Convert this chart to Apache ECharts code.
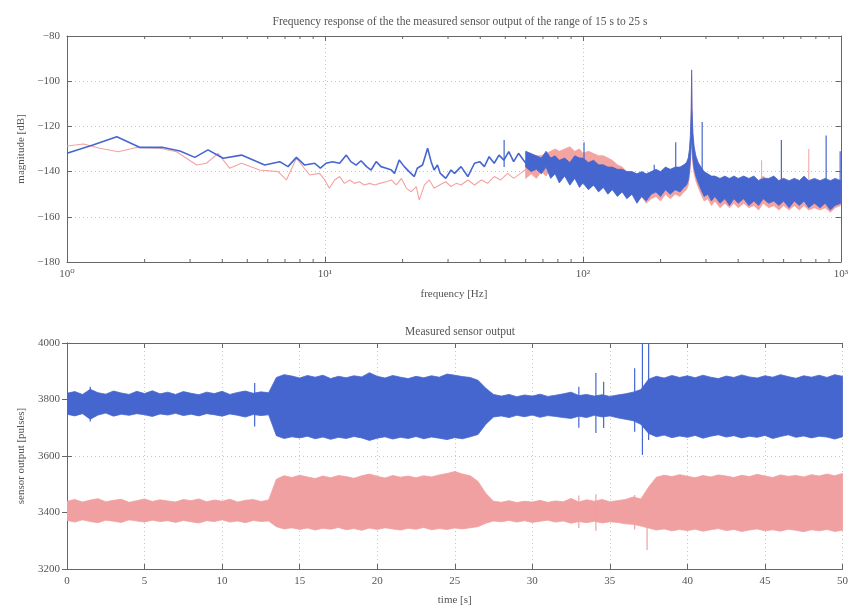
<!DOCTYPE html>
<html>
<head>
<meta charset="utf-8">
<title>Sensor output</title>
<script src="https://cdn.jsdelivr.net/npm/echarts@6/dist/echarts.min.js"></script>
<style>
  html, body { margin: 0; padding: 0; background: #fff; }
  #chart { width: 851px; height: 609px; }
</style>
</head>
<body>
<div id="chart"></div>
<script>
// ---------- Frequency response (upper plot) ----------
// Low-frequency part, drawn as plain lines: frequency [Hz] / magnitude [dB]
const blueLineFreq = [1.00, 1.26, 1.56, 1.92, 2.36, 2.74, 3.13, 3.52, 4.03, 4.75, 5.84, 6.68, 7.19, 7.75, 8.34, 9.12,
  9.6, 10.1, 10.7, 11.4, 12.1, 12.6, 13.2, 13.8, 14.5, 15.1, 15.8, 16.5, 17.3, 18.1, 18.6, 19.4, 20.3, 21.2, 22.2, 22.8,
  23.9, 25.0, 25.8, 26.5, 27.3, 28.0, 29.4, 30.8, 31.8, 33.7, 35.8, 38.0, 39.8, 41.5, 43.3, 45.3, 47.3, 49.4, 51.6,
  53.9, 56.3, 58.8, 61.5];
const blueLineDb = [-131.9, -128.2, -124.6, -129.3, -129.3, -130.9, -133.7, -130.4, -134.1, -132.7, -137.1, -135.6, -137.8, -133.7, -137.1, -136.3,
  -138.5, -136.3, -135.6, -136.3, -132.7, -135.6, -137.1, -135.2, -137.8, -139.3, -135.6, -137.8, -138.5, -139.3, -140.8, -134.9, -137.8, -140.0, -142.2, -138.5,
  -137.1, -129.7, -135.6, -139.3, -137.1, -140.8, -143.0, -139.3, -140.8, -137.8, -142.2, -136.3, -135.6, -137.8, -133.4, -136.3, -132.7, -134.9, -131.2,
  -135.6, -131.9, -134.9, -137.8];

const redLineFreq = [1.00, 1.16, 1.34, 1.58, 1.86, 2.29, 2.66, 3.18, 3.47, 3.85, 4.27, 4.75, 5.58, 6.58, 7.09, 7.75, 8.72,
  9.53, 9.98, 10.4, 10.9, 11.4, 11.9, 12.5, 13.0, 13.6, 14.2, 14.9, 15.6, 16.3, 17.3, 18.1, 18.9, 19.8, 20.7, 21.6, 22.6,
  23.2, 24.3, 25.4, 26.5, 27.8, 29.4, 30.8, 32.3, 33.7, 35.8, 38.0, 40.4, 42.7, 45.3, 48.0, 51.1, 53.9, 57.3, 60.9];
const redLineDb = [-128.7, -127.8, -129.7, -131.2, -129.3, -129.7, -131.2, -137.1, -136.3, -131.9, -138.5, -136.3, -139.3, -140.0, -143.7, -134.1, -141.5,
  -140.8, -143.7, -147.4, -143.7, -142.2, -145.2, -143.7, -145.2, -144.5, -145.9, -145.2, -145.9, -145.2, -144.5, -143.7, -145.9, -143.0, -147.4, -148.9, -146.6,
  -152.6, -145.9, -143.7, -147.4, -145.9, -144.5, -146.6, -145.2, -145.9, -143.7, -145.9, -143.7, -145.2, -142.2, -143.7, -140.8, -143.0, -140.8, -138.5];

// Higher frequencies: spread of the noisy spectrum (lower / upper magnitude)
const bandFreq = [60, 63, 66, 69, 72, 75, 78, 81, 85, 89, 93, 97, 100, 105, 110, 115, 120, 125, 130, 136, 142, 148,
  155, 162, 169, 176, 184, 192, 200, 209, 218, 228, 238, 246, 252, 256, 259, 261, 263, 264, 265, 267, 270, 274, 280,
  287, 295, 305, 315, 325, 340, 355, 370, 385, 400, 420, 440, 460, 480, 500, 525, 550, 575, 600, 630, 660, 690, 720,
  750, 790, 830, 870, 910, 950, 1000];
const blueBandLo = [-138, -140, -139, -141, -138, -143, -141, -145, -142, -146, -143, -147, -145, -148, -146, -149, -147, -150, -148, -151, -149, -152,
  -150, -154, -151, -153, -150, -149, -151, -148, -150, -148, -149, -147, -146, -144, -140, -135, -128, -125, -128, -135, -139, -142, -145,
  -148, -151, -150, -153, -151, -154, -152, -155, -152, -154, -152, -155, -153, -155, -152, -154, -153, -155, -153, -156, -153, -155, -153,
  -156, -154, -156, -154, -157, -155, -154];
const blueBandHi = [-131, -132, -133, -134, -131, -134, -133, -135, -134, -136, -133, -134, -134, -136, -135, -137, -137, -138, -138, -139, -139, -140,
  -140, -141, -140, -141, -140, -139, -140, -138, -139, -138, -138, -137, -136, -134, -130, -124, -112, -95, -112, -123, -129, -133, -136,
  -138, -140, -141, -142, -142, -143, -142, -143, -142, -143, -142, -143, -142, -144, -143, -143, -142, -144, -143, -144, -143, -144, -142,
  -144, -143, -144, -143, -144, -143, -144];
const redBandLo = [-143, -141, -143, -140, -142, -139, -141, -139, -140, -138, -141, -139, -141, -140, -142, -141, -143, -142, -144, -145, -147, -149,
  -150, -153, -151, -154, -152, -151, -153, -150, -152, -150, -151, -149, -148, -146, -142, -137, -130, -127, -130, -137, -141, -144, -147,
  -150, -153, -152, -155, -153, -156, -154, -156, -154, -156, -154, -156, -155, -157, -154, -156, -155, -157, -155, -157, -155, -157, -155,
  -157, -156, -157, -156, -158, -156, -155];
const redBandHi = [-135, -134, -133, -133, -132, -131, -130, -131, -130, -129, -131, -130, -132, -131, -132, -133, -133, -134, -135, -137, -138, -140,
  -141, -142, -141, -142, -141, -140, -141, -139, -140, -139, -139, -138, -137, -135, -131, -126, -114, -98, -114, -125, -131, -135, -138,
  -140, -141, -142, -143, -143, -144, -143, -144, -143, -144, -143, -144, -143, -144, -142, -144, -143, -144, -143, -145, -143, -144, -143,
  -145, -144, -144, -144, -145, -144, -144];

// Narrow spectral lines: frequency, foot and tip [dB]
const blueSpikeFreq = [49.5, 101, 189, 229, 290, 588, 877, 994];
const blueSpikeLo = [-138, -140, -148, -148, -148, -150, -150, -150];
const blueSpikeHi = [-126, -127, -137, -127, -118, -126, -124, -131];
const redSpikeFreq = [120, 493, 751];
const redSpikeLo = [-140, -150, -150];
const redSpikeHi = [-133, -135, -130];

// Minor tick positions of the logarithmic frequency axis
const minorFreq = [2, 3, 4, 5, 6, 7, 8, 9, 20, 30, 40, 50, 60, 70, 80, 90, 200, 300, 400, 500, 600, 700, 800, 900];

// ---------- Measured sensor output (lower plot) ----------
const timeS = [0, 0.5, 1, 1.5, 2, 2.5, 3, 3.5, 4, 4.5, 5, 5.5, 6, 6.5, 7, 7.5, 8, 8.5, 9, 9.5, 10, 10.5, 11, 11.5, 12, 12.5, 13,
  13.5, 14, 14.5, 15, 15.5, 16, 16.5, 17, 17.5, 18, 18.5, 19, 19.5, 20, 20.5, 21, 21.5, 22, 22.5, 23, 23.5, 24, 24.5, 25, 25.5, 26,
  26.5, 27, 27.5, 28, 28.5, 29, 29.5, 30, 30.5, 31, 31.5, 32, 32.5, 33, 33.5, 34, 34.5, 35, 35.5, 36, 36.5, 37,
  37.5, 38, 38.5, 39, 39.5, 40, 40.5, 41, 41.5, 42, 42.5, 43, 43.5, 44, 44.5, 45, 45.5, 46, 46.5, 47, 47.5, 48, 48.5, 49, 49.5, 50];
const blueHi = [3822, 3828, 3818, 3836, 3824, 3819, 3830, 3823, 3818, 3829, 3821, 3831, 3820, 3826, 3818, 3828, 3822, 3817, 3826, 3821, 3829, 3818, 3825, 3830, 3822, 3827, 3824,
  3878, 3888, 3883, 3876, 3885, 3879, 3886, 3874, 3882, 3877, 3884, 3880, 3895, 3882, 3876, 3885, 3879, 3874, 3882, 3877, 3884, 3879, 3890, 3886, 3881, 3878,
  3868, 3840, 3818, 3812, 3818, 3810, 3816, 3812, 3819, 3811, 3815, 3820, 3826, 3814, 3818, 3812, 3817, 3811, 3816, 3820, 3826, 3835,
  3872, 3882, 3876, 3885, 3878, 3884, 3877, 3886, 3879, 3874, 3883, 3878, 3887, 3880, 3876, 3884, 3879, 3888, 3881, 3875, 3884, 3879, 3886, 3878, 3888, 3882];
const blueLo = [3748, 3742, 3750, 3730, 3745, 3752, 3741, 3748, 3744, 3750, 3746, 3740, 3749, 3745, 3751, 3743, 3748, 3742, 3750, 3746, 3741, 3749, 3744, 3738, 3747, 3743, 3746,
  3672, 3662, 3668, 3664, 3670, 3661, 3667, 3659, 3666, 3662, 3669, 3664, 3655, 3663, 3668, 3660, 3666, 3662, 3669, 3661, 3667, 3663, 3658, 3665, 3661, 3668,
  3676, 3712, 3738, 3742, 3736, 3744, 3739, 3745, 3737, 3743, 3740, 3736, 3733, 3741, 3736, 3744, 3738, 3742, 3735, 3730, 3725, 3712,
  3680, 3668, 3674, 3665, 3671, 3666, 3673, 3663, 3670, 3675, 3667, 3672, 3664, 3670, 3666, 3673, 3662, 3669, 3675, 3666, 3671, 3664, 3670, 3667, 3660, 3668];
const redHi = [3440, 3446, 3437, 3444, 3449, 3438, 3443, 3447, 3436, 3442, 3448, 3439, 3445, 3441, 3437, 3446, 3442, 3448, 3438, 3444, 3440, 3447, 3437, 3443, 3446, 3439, 3444,
  3518, 3530, 3524, 3532, 3526, 3520, 3529, 3523, 3531, 3527, 3521, 3530, 3536, 3528, 3522, 3531, 3525, 3529, 3523, 3530, 3526, 3533, 3538, 3545, 3536, 3530,
  3510, 3468, 3440, 3436, 3442, 3435, 3440, 3437, 3443, 3436, 3441, 3438, 3450, 3437, 3445, 3440, 3446, 3438, 3442, 3446, 3455, 3448,
  3490, 3525, 3532, 3527, 3534, 3528, 3523, 3531, 3526, 3533, 3529, 3524, 3532, 3527, 3535, 3529, 3524, 3533, 3528, 3531, 3526, 3534, 3529, 3536, 3530, 3538];
const redLo = [3372, 3366, 3374, 3368, 3364, 3373, 3369, 3365, 3374, 3370, 3366, 3373, 3368, 3371, 3365, 3372, 3367, 3363, 3371, 3368, 3374, 3366, 3370, 3364, 3372, 3368, 3370,
  3350, 3342, 3346, 3340, 3345, 3338, 3344, 3341, 3347, 3339, 3343, 3337, 3345, 3340, 3346, 3342, 3338, 3344, 3341, 3347, 3339, 3343, 3340, 3345, 3342, 3346,
  3350, 3362, 3370, 3367, 3372, 3366, 3371, 3365, 3369, 3373, 3366, 3370, 3362, 3368, 3364, 3369, 3363, 3367, 3365, 3360, 3358, 3352,
  3345, 3338, 3342, 3335, 3340, 3336, 3341, 3334, 3339, 3343, 3336, 3340, 3333, 3338, 3342, 3335, 3339, 3334, 3341, 3337, 3332, 3339, 3335, 3340, 3333, 3337];

// Isolated disturbances: time [s], lowest and highest reading [pulses]
const blueSpikeT = [1.5, 12.1, 33.0, 34.1, 34.6, 36.6, 37.1, 37.5];
const blueSpikeMin = [3722, 3704, 3700, 3681, 3699, 3686, 3604, 3657];
const blueSpikeMax = [3845, 3858, 3845, 3894, 3863, 3911, 4000, 4000];
const redSpikeT = [33.0, 34.1, 36.6, 37.4];
const redSpikeMin = [3345, 3335, 3340, 3267];
const redSpikeMax = [3460, 3465, 3462, 3480];

// ---------- styling ----------
const BLUE = '#4566cf';
const RED = '#f0a0a0';
const TEXT = '#555';
const FONT = '"Liberation Serif", "DejaVu Serif", serif';
const SUP = { 0: '\u2070', 1: '\u00b9', 2: '\u00b2', 3: '\u00b3' };

function zip(xs, ys) { return xs.map((x, i) => [x, ys[i]]); }

// Filled band between a lower and an upper envelope
function bandSeries(xAxisIndex, yAxisIndex, xs, lo, hi, color, z) {
  return {
    type: 'custom', xAxisIndex, yAxisIndex, z, clip: true, silent: true,
    data: [[xs[0], lo[0]]],
    renderItem(params, api) {
      const pts = [];
      for (let i = 0; i < xs.length; i++) pts.push(api.coord([xs[i], hi[i]]));
      for (let i = xs.length - 1; i >= 0; i--) pts.push(api.coord([xs[i], lo[i]]));
      return { type: 'polygon', shape: { points: pts },
        style: { fill: color, stroke: color, lineWidth: 0.8 } };
    }
  };
}

// Vertical strokes from a foot value to a tip value
function spikeSeries(xAxisIndex, yAxisIndex, xs, lo, hi, color, width, z) {
  return {
    type: 'custom', xAxisIndex, yAxisIndex, z, clip: true, silent: true,
    data: xs.map((x, i) => [x, lo[i], hi[i]]),
    renderItem(params, api) {
      const a = api.coord([api.value(0), api.value(1)]);
      const b = api.coord([api.value(0), api.value(2)]);
      return { type: 'line', shape: { x1: a[0], y1: a[1], x2: b[0], y2: b[1] },
        style: { stroke: color, lineWidth: width } };
    }
  };
}

// Short inward ticks at the minor decades of the log axis (top and bottom edge)
const minorTickSeries = {
  type: 'custom', xAxisIndex: 0, yAxisIndex: 0, z: 10, silent: true,
  data: minorFreq.map(f => [f, -180]),
  renderItem(params, api) {
    const x = api.coord([api.value(0), -180])[0];
    const cs = params.coordSys;
    const yb = cs.y + cs.height, yt = cs.y;
    return { type: 'group', children: [
      { type: 'line', shape: { x1: x, y1: yb, x2: x, y2: yb - 3 }, style: { stroke: '#666', lineWidth: 1 } },
      { type: 'line', shape: { x1: x, y1: yt, x2: x, y2: yt + 3 }, style: { stroke: '#666', lineWidth: 1 } }
    ] };
  }
};

const labelStyle = { color: TEXT, fontFamily: FONT, fontSize: 11 };
const axisLineStyle = { show: true, lineStyle: { color: '#666', width: 1 } };
const tickStyle = { show: true, inside: true, length: 5, lineStyle: { color: '#666' } };
const gridLine = { show: true, lineStyle: { color: '#c4c4c4', type: [1, 3], width: 1 } };
const minus = v => String(v).replace('-', '\u2212');
const plain = v => String(v);

const option = {
  animation: false,
  backgroundColor: '#fff',
  title: [
    { text: 'Frequency response of the the measured sensor output of the range of 15 s to 25 s',
      left: 455, top: 11, textAlign: 'center',
      textStyle: { color: TEXT, fontFamily: FONT, fontSize: 11.5, fontWeight: 'normal' } },
    { text: 'Measured sensor output', left: 455, top: 321, textAlign: 'center',
      textStyle: { color: TEXT, fontFamily: FONT, fontSize: 11.5, fontWeight: 'normal' } }
  ],
  grid: [
    { left: 67, top: 36, width: 777, height: 226 },
    { left: 67, top: 343, width: 777, height: 226 }
  ],
  xAxis: [
    { type: 'log', logBase: 10, gridIndex: 0, min: 1, max: 1000, position: 'bottom',
      axisLine: axisLineStyle, axisTick: tickStyle, splitLine: gridLine,
      axisLabel: Object.assign({}, labelStyle, { margin: 7,
        formatter: v => '10' + SUP[Math.round(Math.log10(v))] }),
      name: 'frequency [Hz]', nameLocation: 'middle', nameGap: 27,
      nameTextStyle: labelStyle },
    { type: 'log', logBase: 10, gridIndex: 0, min: 1, max: 1000, position: 'top',
      axisLine: axisLineStyle, axisTick: tickStyle, axisLabel: { show: false }, splitLine: { show: false } },
    { type: 'value', gridIndex: 1, min: 0, max: 50, interval: 5, position: 'bottom',
      axisLine: axisLineStyle, axisTick: tickStyle, splitLine: gridLine,
      axisLabel: Object.assign({}, labelStyle, { margin: 7, formatter: plain }),
      name: 'time [s]', nameLocation: 'middle', nameGap: 26, nameTextStyle: labelStyle },
    { type: 'value', gridIndex: 1, min: 0, max: 50, interval: 5, position: 'top',
      axisLine: axisLineStyle, axisTick: tickStyle, axisLabel: { show: false }, splitLine: { show: false } }
  ],
  yAxis: [
    { type: 'value', gridIndex: 0, min: -180, max: -80, interval: 20, position: 'left',
      axisLine: axisLineStyle, axisTick: tickStyle, splitLine: gridLine,
      axisLabel: Object.assign({}, labelStyle, { margin: 7, formatter: minus }),
      name: 'magnitude [dB]', nameLocation: 'middle', nameGap: 40, nameTextStyle: labelStyle },
    { type: 'value', gridIndex: 0, min: -180, max: -80, interval: 20, position: 'right',
      axisLine: axisLineStyle, axisTick: tickStyle, axisLabel: { show: false }, splitLine: { show: false } },
    { type: 'value', gridIndex: 1, min: 3200, max: 4000, interval: 200, position: 'left',
      axisLine: axisLineStyle, axisTick: tickStyle, splitLine: gridLine,
      axisLabel: Object.assign({}, labelStyle, { margin: 7, formatter: plain }),
      name: 'sensor output [pulses]', nameLocation: 'middle', nameGap: 40, nameTextStyle: labelStyle },
    { type: 'value', gridIndex: 1, min: 3200, max: 4000, interval: 200, position: 'right',
      axisLine: axisLineStyle, axisTick: tickStyle, axisLabel: { show: false }, splitLine: { show: false } }
  ],
  series: [
    // upper plot: red first, blue over it
    bandSeries(0, 0, bandFreq, redBandLo, redBandHi, '#f3a3a0', 2),
    { type: 'line', xAxisIndex: 0, yAxisIndex: 0, data: zip(redLineFreq, redLineDb), symbol: 'none', z: 2,
      lineStyle: { color: '#f3a3a0', width: 1.1 }, silent: true },
    spikeSeries(0, 0, redSpikeFreq, redSpikeLo, redSpikeHi, '#f3a3a0', 1, 2),
    bandSeries(0, 0, bandFreq, blueBandLo, blueBandHi, BLUE, 3),
    { type: 'line', xAxisIndex: 0, yAxisIndex: 0, data: zip(blueLineFreq, blueLineDb), symbol: 'none', z: 3,
      lineStyle: { color: BLUE, width: 1.6 }, silent: true },
    spikeSeries(0, 0, blueSpikeFreq, blueSpikeLo, blueSpikeHi, BLUE, 1.2, 3),
    minorTickSeries,
    // lower plot
    bandSeries(2, 2, timeS, redLo, redHi, RED, 2),
    spikeSeries(2, 2, redSpikeT, redSpikeMin, redSpikeMax, RED, 1.2, 2),
    bandSeries(2, 2, timeS, blueLo, blueHi, BLUE, 3),
    spikeSeries(2, 2, blueSpikeT, blueSpikeMin, blueSpikeMax, BLUE, 1.2, 3)
  ]
};

const chart = echarts.init(document.getElementById('chart'), null, { renderer: 'canvas' });
chart.setOption(option);
</script>
</body>
</html>
